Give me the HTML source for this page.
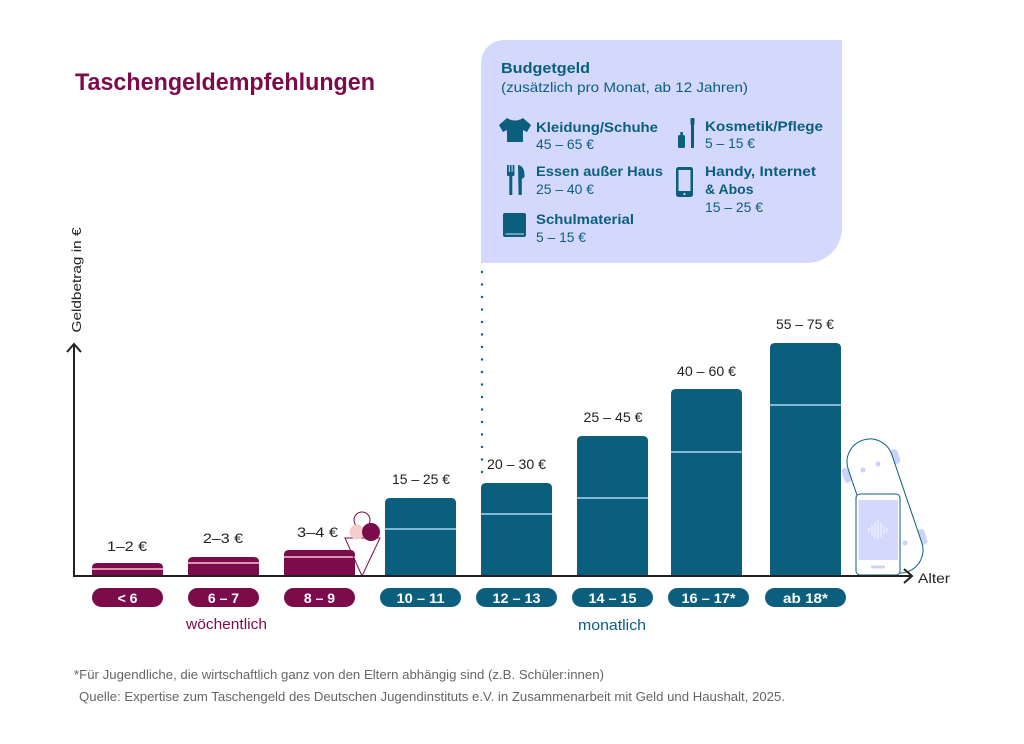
<!DOCTYPE html>
<html>
<head>
<meta charset="utf-8">
<style>
  html, body { margin:0; padding:0; background:#ffffff; }
  svg { display:block; }
  text { font-family: "Liberation Sans", "DejaVu Sans", sans-serif; }
</style>
</head>
<body>
<svg width="1024" height="744" viewBox="0 0 1024 744" xmlns="http://www.w3.org/2000/svg">
  <rect x="0" y="0" width="1024" height="744" fill="#ffffff"/>

  <!-- Title -->
  <text x="75" y="90" font-size="24" font-weight="bold" fill="#7c0b4b" textLength="300" lengthAdjust="spacingAndGlyphs">Taschengeldempfehlungen</text>

  <!-- Budget box -->
  <path d="M481,63 A23,23 0 0 1 504,40 H842 V228 A35,35 0 0 1 807,263 H481 Z" fill="#d4d8fc"/>
  <text x="501" y="73" font-size="15" font-weight="bold" fill="#0b5f7d" textLength="89" lengthAdjust="spacingAndGlyphs">Budgetgeld</text>
  <text x="501" y="92" font-size="14" fill="#0b5f7d" textLength="247" lengthAdjust="spacingAndGlyphs">(zusätzlich pro Monat, ab 12 Jahren)</text>

  <!-- shirt icon -->
  <path d="M507,118 L499,125 L503,132 L507,130 L507,142 L523,142 L523,130 L527,132 L531,125 L523,118 Q515,123 507,118 Z" fill="#0b5f7d"/>
  <text x="536" y="132" font-size="14" font-weight="bold" fill="#0b5f7d" textLength="122" lengthAdjust="spacingAndGlyphs">Kleidung/Schuhe</text>
  <text x="536" y="149" font-size="14" fill="#0b5f7d" textLength="58" lengthAdjust="spacingAndGlyphs">45 – 65 €</text>

  <!-- fork & knife -->
  <rect x="507" y="165" width="1.8" height="9" fill="#0b5f7d"/>
  <rect x="509.8" y="165" width="1.8" height="9" fill="#0b5f7d"/>
  <rect x="512.6" y="165" width="1.8" height="9" fill="#0b5f7d"/>
  <rect x="507" y="172" width="7.4" height="4" rx="1" fill="#0b5f7d"/>
  <rect x="509.3" y="174" width="3" height="21" fill="#0b5f7d"/>
  <path d="M518,165 Q525,166 524.5,177 L521.8,179 L521.8,195 L518.6,195 Z" fill="#0b5f7d"/>
  <text x="536" y="176" font-size="14" font-weight="bold" fill="#0b5f7d" textLength="127" lengthAdjust="spacingAndGlyphs">Essen außer Haus</text>
  <text x="536" y="194" font-size="14" fill="#0b5f7d" textLength="58" lengthAdjust="spacingAndGlyphs">25 – 40 €</text>

  <!-- book -->
  <rect x="503" y="213" width="23" height="24" rx="2" fill="#0b5f7d"/>
  <line x1="505.5" y1="234" x2="524" y2="234" stroke="#d4d8fc" stroke-width="1"/>
  <text x="536" y="224" font-size="14" font-weight="bold" fill="#0b5f7d" textLength="98" lengthAdjust="spacingAndGlyphs">Schulmaterial</text>
  <text x="536" y="242" font-size="14" fill="#0b5f7d" textLength="50" lengthAdjust="spacingAndGlyphs">5 – 15 €</text>

  <!-- cosmetics -->
  <rect x="680.3" y="132" width="2.6" height="4" fill="#0b5f7d"/>
  <rect x="678" y="135" width="7" height="13" rx="1.5" fill="#0b5f7d"/>
  <rect x="690.5" y="118" width="4" height="7" rx="1" fill="#0b5f7d"/>
  <rect x="691" y="124" width="3" height="24" fill="#0b5f7d"/>
  <text x="705" y="131" font-size="14" font-weight="bold" fill="#0b5f7d" textLength="118" lengthAdjust="spacingAndGlyphs">Kosmetik/Pflege</text>
  <text x="705" y="148" font-size="14" fill="#0b5f7d" textLength="50" lengthAdjust="spacingAndGlyphs">5 – 15 €</text>

  <!-- phone icon -->
  <rect x="676" y="167" width="17" height="30" rx="2.5" fill="#0b5f7d"/>
  <rect x="678.5" y="170" width="12" height="21" fill="#d4d8fc"/>
  <circle cx="684.5" cy="194" r="1.1" fill="#d4d8fc"/>
  <text x="705" y="176" font-size="14" font-weight="bold" fill="#0b5f7d" textLength="111" lengthAdjust="spacingAndGlyphs">Handy, Internet</text>
  <text x="705" y="194" font-size="14" font-weight="bold" fill="#0b5f7d">&amp; Abos</text>
  <text x="705" y="212" font-size="14" fill="#0b5f7d" textLength="58" lengthAdjust="spacingAndGlyphs">15 – 25 €</text>

  <!-- dotted line -->
  <g fill="#0b5f7d">
    <circle cx="482" cy="272" r="1.2"/><circle cx="482" cy="284.5" r="1.2"/><circle cx="482" cy="297" r="1.2"/>
    <circle cx="482" cy="309.5" r="1.2"/><circle cx="482" cy="322" r="1.2"/><circle cx="482" cy="334.5" r="1.2"/>
    <circle cx="482" cy="347" r="1.2"/><circle cx="482" cy="359.5" r="1.2"/><circle cx="482" cy="372" r="1.2"/>
    <circle cx="482" cy="384.5" r="1.2"/><circle cx="482" cy="397" r="1.2"/><circle cx="482" cy="409.5" r="1.2"/>
    <circle cx="482" cy="422" r="1.2"/><circle cx="482" cy="434.5" r="1.2"/><circle cx="482" cy="447" r="1.2"/>
    <circle cx="482" cy="459.5" r="1.2"/><circle cx="482" cy="472" r="1.2"/>
  </g>

  <!-- Y axis label -->
  <text transform="translate(81,280) rotate(-90)" x="0" y="0" text-anchor="middle" font-size="13" fill="#222" textLength="105" lengthAdjust="spacingAndGlyphs">Geldbetrag in €</text>

  <!-- Bars -->
  <g>
    <path d="M92,576 V568 Q92,563 97,563 H158 Q163,563 163,568 V576 Z" fill="#7c0b4b"/>
    <line x1="92" y1="569" x2="163" y2="569" stroke="#f4c6cf" stroke-width="1.6"/>
    <path d="M188,576 V562 Q188,557 193,557 H254 Q259,557 259,562 V576 Z" fill="#7c0b4b"/>
    <line x1="188" y1="563" x2="259" y2="563" stroke="#f4c6cf" stroke-width="1.6"/>
    <path d="M284,576 V555 Q284,550 289,550 H350 Q355,550 355,555 V576 Z" fill="#7c0b4b"/>
    <line x1="284" y1="557" x2="355" y2="557" stroke="#f4c6cf" stroke-width="1.6"/>

    <path d="M385,576 V503 Q385,498 390,498 H451 Q456,498 456,503 V576 Z" fill="#0b5f7d"/>
    <line x1="385" y1="529" x2="456" y2="529" stroke="#a9d8f2" stroke-width="1.6"/>
    <path d="M481,576 V488 Q481,483 486,483 H547 Q552,483 552,488 V576 Z" fill="#0b5f7d"/>
    <line x1="481" y1="514" x2="552" y2="514" stroke="#a9d8f2" stroke-width="1.6"/>
    <path d="M577,576 V441 Q577,436 582,436 H643 Q648,436 648,441 V576 Z" fill="#0b5f7d"/>
    <line x1="577" y1="498" x2="648" y2="498" stroke="#a9d8f2" stroke-width="1.6"/>
    <path d="M671,576 V394 Q671,389 676,389 H737 Q742,389 742,394 V576 Z" fill="#0b5f7d"/>
    <line x1="671" y1="452" x2="742" y2="452" stroke="#a9d8f2" stroke-width="1.6"/>
    <path d="M770,576 V348 Q770,343 775,343 H836 Q841,343 841,348 V576 Z" fill="#0b5f7d"/>
    <line x1="770" y1="405" x2="841" y2="405" stroke="#a9d8f2" stroke-width="1.6"/>
  </g>

  <!-- Value labels -->
  <g font-size="14" fill="#222" text-anchor="middle">
    <text x="127" y="551" textLength="40" lengthAdjust="spacingAndGlyphs">1–2 €</text>
    <text x="223" y="543" textLength="40" lengthAdjust="spacingAndGlyphs">2–3 €</text>
    <text x="317.5" y="537" textLength="41" lengthAdjust="spacingAndGlyphs">3–4 €</text>
    <text x="421" y="484" textLength="58" lengthAdjust="spacingAndGlyphs">15 – 25 €</text>
    <text x="516.5" y="469" textLength="59" lengthAdjust="spacingAndGlyphs">20 – 30 €</text>
    <text x="613" y="422" textLength="59" lengthAdjust="spacingAndGlyphs">25 – 45 €</text>
    <text x="706.5" y="376" textLength="59" lengthAdjust="spacingAndGlyphs">40 – 60 €</text>
    <text x="805" y="329" textLength="58" lengthAdjust="spacingAndGlyphs">55 – 75 €</text>
  </g>

  <!-- Ice cream -->
  <circle cx="362" cy="520" r="8" fill="none" stroke="#7c0b4b" stroke-width="1"/>
  <path d="M345,538 L380,538 L362,576 Z" fill="none" stroke="#7c0b4b" stroke-width="1"/>
  <circle cx="357" cy="532" r="7.5" fill="#f5cdcd"/>
  <circle cx="371" cy="532" r="9" fill="#7c0b4b"/>

  <!-- Skateboard + phone -->
  <rect x="843" y="468" width="7" height="15" rx="3" fill="#cdd2fa" transform="rotate(-18.8,846.5,475.5)"/>
  <rect x="892" y="449" width="7" height="15" rx="3" fill="#cdd2fa" transform="rotate(-18.8,895.5,456.5)"/>
  <rect x="918" y="529" width="8" height="16" rx="3" fill="#cdd2fa" transform="rotate(-18.8,922,537)"/>
  <rect x="862" y="436.5" width="46" height="139" rx="23" fill="#ffffff" stroke="#0b5f7d" stroke-width="1" transform="rotate(-18.8,885,506)"/>
  <circle cx="863" cy="470" r="2.5" fill="#cdd2fa"/>
  <circle cx="878" cy="464" r="2.5" fill="#cdd2fa"/>
  <circle cx="905" cy="543" r="2.5" fill="#cdd2fa"/>
  <rect x="856" y="494" width="44" height="81" rx="4" fill="#ffffff" stroke="#0b5f7d" stroke-width="1"/>
  <rect x="858.5" y="500" width="39.5" height="60" fill="#d4d8fc"/>
  <g stroke="#ffffff" stroke-width="1" opacity="0.85">
    <line x1="869" y1="528" x2="869" y2="532"/>
    <line x1="872" y1="525" x2="872" y2="535"/>
    <line x1="875" y1="522" x2="875" y2="538"/>
    <line x1="878" y1="520" x2="878" y2="540"/>
    <line x1="881" y1="523" x2="881" y2="537"/>
    <line x1="884" y1="526" x2="884" y2="534"/>
    <line x1="887" y1="528" x2="887" y2="532"/>
  </g>
  <rect x="871" y="565.5" width="14" height="3" rx="1.5" fill="#cdd2fa"/>

  <!-- Axes -->
  <line x1="74" y1="576" x2="74" y2="344" stroke="#222" stroke-width="2"/>
  <polyline points="67,352 74,344 81,352" fill="none" stroke="#222" stroke-width="2"/>
  <line x1="73" y1="576" x2="911" y2="576" stroke="#222" stroke-width="2"/>
  <polyline points="904,569 912,576 904,583" fill="none" stroke="#222" stroke-width="2"/>
  <text x="918" y="583" font-size="14" fill="#222" textLength="32" lengthAdjust="spacingAndGlyphs">Alter</text>

  <!-- Pills -->
  <g>
    <rect x="92" y="588" width="71" height="19" rx="9.5" fill="#7c0b4b"/>
    <rect x="188" y="588" width="71" height="19" rx="9.5" fill="#7c0b4b"/>
    <rect x="284" y="588" width="71" height="19" rx="9.5" fill="#7c0b4b"/>
    <rect x="380" y="588" width="81" height="19" rx="9.5" fill="#0b5f7d"/>
    <rect x="476" y="588" width="81" height="19" rx="9.5" fill="#0b5f7d"/>
    <rect x="572" y="588" width="81" height="19" rx="9.5" fill="#0b5f7d"/>
    <rect x="668" y="588" width="81" height="19" rx="9.5" fill="#0b5f7d"/>
    <rect x="765" y="588" width="81" height="19" rx="9.5" fill="#0b5f7d"/>
  </g>
  <g font-size="14" font-weight="bold" fill="#ffffff" text-anchor="middle">
    <text x="127.5" y="603">&lt; 6</text>
    <text x="223.5" y="603">6 – 7</text>
    <text x="319.5" y="603">8 – 9</text>
    <text x="420.5" y="603" textLength="48" lengthAdjust="spacingAndGlyphs">10 – 11</text>
    <text x="516.5" y="603" textLength="48" lengthAdjust="spacingAndGlyphs">12 – 13</text>
    <text x="612.5" y="603" textLength="48" lengthAdjust="spacingAndGlyphs">14 – 15</text>
    <text x="708.5" y="603" textLength="54" lengthAdjust="spacingAndGlyphs">16 – 17*</text>
    <text x="805.5" y="603" textLength="45" lengthAdjust="spacingAndGlyphs">ab 18*</text>
  </g>

  <text x="226.5" y="629" font-size="15" fill="#7c0b4b" text-anchor="middle" textLength="81" lengthAdjust="spacingAndGlyphs">wöchentlich</text>
  <text x="612" y="630" font-size="15" fill="#0b5f7d" text-anchor="middle" textLength="68" lengthAdjust="spacingAndGlyphs">monatlich</text>

  <!-- Footer -->
  <text x="74" y="679" font-size="12.5" fill="#666" textLength="530" lengthAdjust="spacingAndGlyphs">*Für Jugendliche, die wirtschaftlich ganz von den Eltern abhängig sind (z.B. Schüler:innen)</text>
  <text x="79" y="701" font-size="12.5" fill="#666" textLength="706" lengthAdjust="spacingAndGlyphs">Quelle: Expertise zum Taschengeld des Deutschen Jugendinstituts e.V. in Zusammenarbeit mit Geld und Haushalt, 2025.</text>
</svg>
</body>
</html>
